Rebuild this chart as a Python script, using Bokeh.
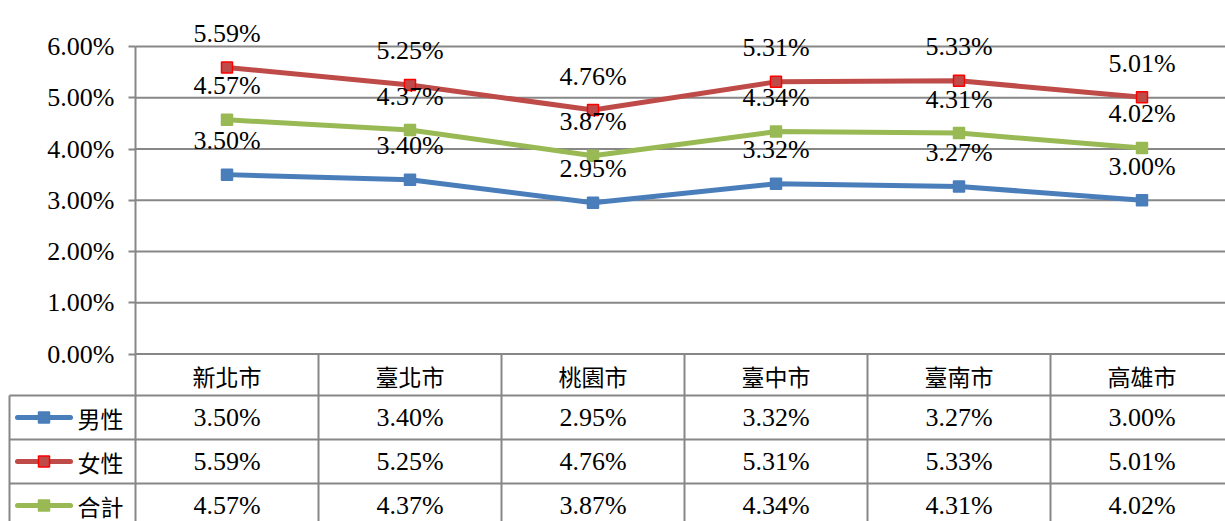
from bokeh.plotting import figure
from bokeh.models import Range1d, FixedTicker, PrintfTickFormatter, LinearAxis
from bokeh.embed import file_html
from bokeh.resources import INLINE
from bokeh.core.properties import value

# ---------------- data ----------------
categories = ["新北市", "臺北市", "桃園市", "臺中市", "臺南市", "高雄市"]
male = [3.50, 3.40, 2.95, 3.32, 3.27, 3.00]
female = [5.59, 5.25, 4.76, 5.31, 5.33, 5.01]
total = [4.57, 4.37, 3.87, 4.34, 4.31, 4.02]
series_names = ["男性", "女性", "合計"]
y_ticks = [0, 1, 2, 3, 4, 5, 6]

# ---------------- layout constants ----------------
W, H = 1225, 521
COL = 183.0          # px per category column
X0 = 135             # x of first column's left edge
Y0 = 353.5           # y of the 0 % line
PXU = 51.25          # px per 1 %


def dx(px):
    return (px - X0) / COL


GRID = "#878787"
BLUE, RED, GREEN = "#4A7EBB", "#BE4B48", "#98B954"
NUM_FONT = "Liberation Serif"
CJK_FONT = "Noto Sans CJK TC"

series = [
    (male, BLUE, BLUE),
    (female, RED, "#FF0000"),
    (total, GREEN, GREEN),
]
xs = [i + 0.5 for i in range(len(categories))]
ncol = len(categories)

p = figure(width=W, height=H,
           x_range=Range1d(dx(0), dx(W)),
           y_range=Range1d(-(H - Y0) / PXU, Y0 / PXU),
           output_backend="svg", toolbar_location=None,
           min_border_left=0, min_border_right=0,
           min_border_top=0, min_border_bottom=0,
           x_axis_location=None, y_axis_location=None)
p.extra_y_ranges = {"tab": Range1d(H, 0)}   # table rows in pixel rows
p.outline_line_color = None
p.xgrid.visible = False
p.ygrid.visible = False
p.background_fill_color = "white"
p.border_fill_color = "white"

ax = LinearAxis(fixed_location=0)
ax.ticker = FixedTicker(ticks=y_ticks)
ax.formatter = PrintfTickFormatter(format="%.2f%%")
ax.axis_line_color = None
ax.major_tick_out = 7
ax.major_tick_in = 0
ax.major_tick_line_color = GRID
ax.major_tick_line_width = 2
ax.minor_tick_line_color = None
ax.major_label_standoff = 14
ax.major_label_text_font = NUM_FONT
ax.major_label_text_font_size = "26px"
ax.major_label_text_color = "#000000"
p.add_layout(ax, "left")

# horizontal gridlines at the tick values
p.segment(x0=[0] * len(y_ticks), y0=y_ticks, x1=[ncol + 1] * len(y_ticks), y1=y_ticks,
          line_color=GRID, line_width=2)

# vertical lines: value axis line + table column dividers
p.segment(x0=list(range(ncol + 1)), y0=[354] * (ncol + 1),
          x1=list(range(ncol + 1)), y1=[H + 10] * (ncol + 1),
          line_color=GRID, line_width=2, y_range_name="tab")
p.segment(x0=[0], y0=[46], x1=[0], y1=[354], line_color=GRID, line_width=2,
          y_range_name="tab")
p.segment(x0=[dx(9)], y0=[395], x1=[dx(9)], y1=[H + 10], line_color=GRID,
          line_width=2, y_range_name="tab")
row_lines = [395, 439, 483]
p.segment(x0=[dx(9)] * 3, y0=row_lines, x1=[ncol + 1] * 3, y1=row_lines,
          line_color=GRID, line_width=2, y_range_name="tab")

# series
for vals, col, edge in series:
    p.line(xs, vals, line_color=col, line_width=5)
for vals, col, edge in series:
    p.scatter(xs, vals, marker="square", size=11, fill_color=col,
              line_color=edge, line_width=1.5)
for vals, col, edge in series:
    p.text(xs, vals, text=[f"{v:.2f}%" for v in vals], text_align="center",
           text_baseline="middle", y_offset=-34, text_font=value(NUM_FONT),
           text_font_size="26px", text_color="#000000")

# table texts
p.text(xs, [375] * ncol, text=categories, text_align="center", text_baseline="middle",
       text_font=value(CJK_FONT), text_font_size="23px", text_color="#000000",
       y_range_name="tab")

row_centers = [417, 461, 505]
for (vals, col, edge), name, yc in zip(series, series_names, row_centers):
    p.text(xs, [yc] * ncol, text=[f"{v:.2f}%" for v in vals], text_align="center",
           text_baseline="middle", text_font=value(NUM_FONT), text_font_size="26px",
           text_color="#000000", y_range_name="tab")
    p.segment(x0=[dx(17)], y0=[yc], x1=[dx(70)], y1=[yc], line_color=col,
              line_width=5, line_cap="round", y_range_name="tab")
    p.scatter([dx(43.5)], [yc], marker="square", size=11, fill_color=col,
              line_color=edge, line_width=1.5, y_range_name="tab")
    p.text([dx(77)], [yc], text=[name], text_align="left", text_baseline="middle",
           text_font=value(CJK_FONT), text_font_size="23px", text_color="#000000",
           y_range_name="tab")

open("out.html", "w").write(file_html(p, INLINE))
